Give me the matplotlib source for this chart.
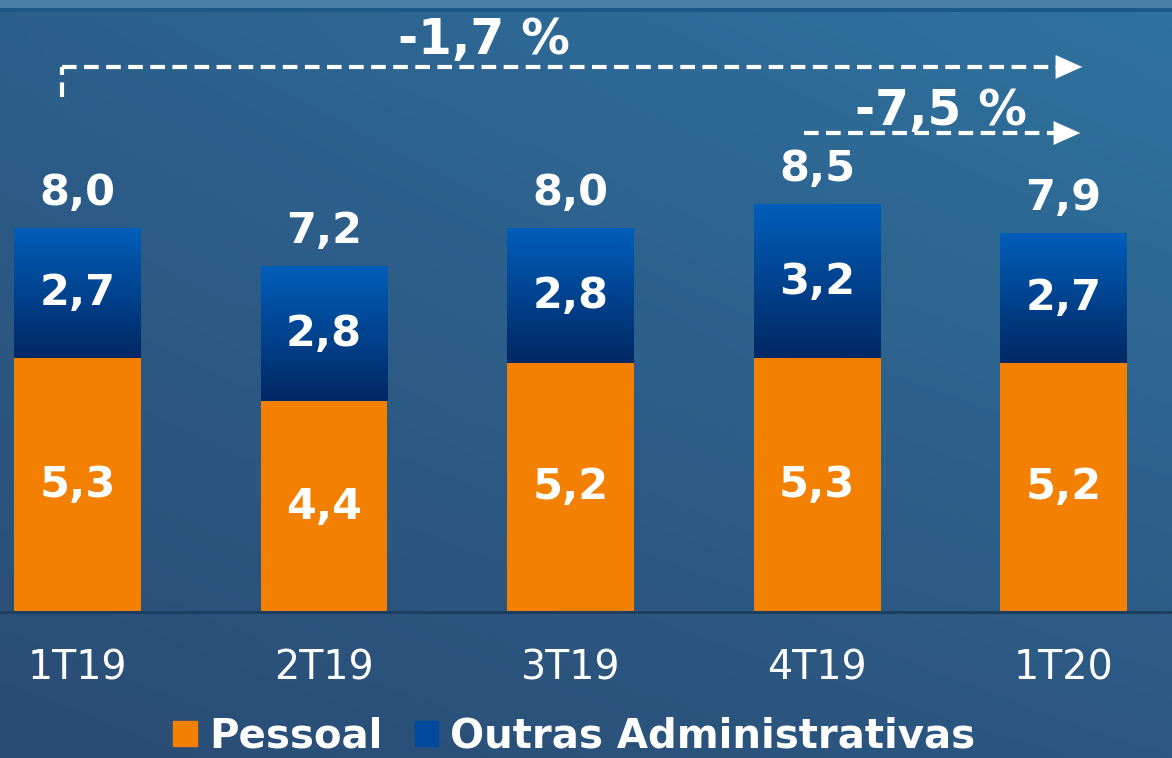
import numpy as np
import matplotlib.pyplot as plt
from matplotlib.patches import Patch

categories = ['1T19', '2T19', '3T19', '4T19', '1T20']
pessoal = [5.3, 4.4, 5.2, 5.3, 5.2]
outras = [2.7, 2.8, 2.8, 3.2, 2.7]
totals = [8.0, 7.2, 8.0, 8.5, 7.9]
pessoal_lbl = ['5,3', '4,4', '5,2', '5,3', '5,2']
outras_lbl = ['2,7', '2,8', '2,8', '3,2', '2,7']
totals_lbl = ['8,0', '7,2', '8,0', '8,5', '7,9']
var_year = '-1,7 %'
var_quarter = '-7,5 %'

orange = '#F38000'
blue_top = np.array([0, 94, 186]) / 255
blue_bot = np.array([0, 40, 100]) / 255

fig = plt.figure(figsize=(11.72, 7.58), dpi=100)
ax = fig.add_axes([0, 0, 1, 1])
ax.set_xlim(-0.3144, 4.440)
ax.set_ylim(-3.048, 12.777)
ax.axis('off')

# background gradient (lighter top-right, darker bottom-left)
yy, xx = np.mgrid[0:1:200j, 0:1:300j]
c_tl = np.array([44, 96, 140]) / 255
c_tr = np.array([48, 115, 160]) / 255
c_bl = np.array([42, 76, 116]) / 255
c_br = np.array([44, 88, 130]) / 255
bg = ((1 - yy)[..., None] * ((1 - xx)[..., None] * c_tl + xx[..., None] * c_tr)
      + yy[..., None] * ((1 - xx)[..., None] * c_bl + xx[..., None] * c_br))
ax.imshow(bg, extent=[-0.3144, 4.440, -3.048, 12.777], aspect='auto', zorder=0)
# top bands
ax.axhspan(12.62, 12.777, color='#4A7FA6', zorder=0.5, lw=0)
ax.axhspan(12.53, 12.62, color='#1C5888', zorder=0.5, lw=0)

x = np.arange(len(categories))
w = 0.515
b1 = ax.bar(x, pessoal, w, color=orange, zorder=2)
b2 = ax.bar(x, outras, w, bottom=pessoal, color=blue_top, zorder=2)

grad = np.linspace(0, 1, 100)[:, None, None] * blue_bot + (1 - np.linspace(0, 1, 100))[:, None, None] * blue_top
for r in b2:
    x0, y0 = r.get_x(), r.get_y()
    ax.imshow(grad, extent=[x0, x0 + r.get_width(), y0, y0 + r.get_height()],
              origin='upper', aspect='auto', zorder=3)

ax.axhline(0, color='#1D3E5E', lw=2.2, zorder=4)

lbl = dict(color='white', fontsize=31, fontweight='bold', ha='center', va='center', zorder=5)
for i in range(len(categories)):
    ax.text(x[i], pessoal[i] / 2, pessoal_lbl[i], **lbl)
    ax.text(x[i], pessoal[i] + outras[i] / 2, outras_lbl[i], **lbl)
    ax.text(x[i], totals[i] + 0.75, totals_lbl[i], **lbl)
    ax.text(x[i], -1.17, categories[i], color='white', fontsize=28.5,
            ha='center', va='center', zorder=5)

# variation arrows
dash = (0, (3.5, 1.8))
head = dict(arrowstyle='-|>,head_length=1.9,head_width=0.85', color='white', lw=0.1)
ax.plot([-0.063, -0.063], [10.75, 11.38], color='white', lw=3, linestyle=dash,
        dash_capstyle='butt', zorder=5)
ax.plot([-0.063, 4.0], [11.38, 11.38], color='white', lw=3, linestyle=dash,
        dash_capstyle='butt', zorder=5)
ax.annotate('', xy=(4.087, 11.38), xytext=(3.95, 11.38), arrowprops=head, zorder=5)
ax.plot([2.947, 3.99], [10.0, 10.0], color='white', lw=3, linestyle=dash,
        dash_capstyle='butt', zorder=5)
ax.annotate('', xy=(4.079, 10.0), xytext=(3.94, 10.0), arrowprops=head, zorder=5)
ax.text(1.649, 11.94, var_year, color='white', fontsize=35, fontweight='bold',
        ha='center', va='center', zorder=6)
ax.text(3.503, 10.46, var_quarter, color='white', fontsize=35, fontweight='bold',
        ha='center', va='center', zorder=6)

handles = [Patch(color=orange, label='Pessoal'),
           Patch(color='#004A9E', label='Outras Administrativas')]
leg = fig.legend(handles=handles, loc='center', bbox_to_anchor=(0.49, 0.028), ncol=2,
                 frameon=False, handlelength=0.58, handleheight=0.58, handletextpad=0.3,
                 columnspacing=0.8, prop=dict(size=29, weight='bold'))
for t in leg.get_texts():
    t.set_color('white')

fig.savefig('out.png', dpi=100)
